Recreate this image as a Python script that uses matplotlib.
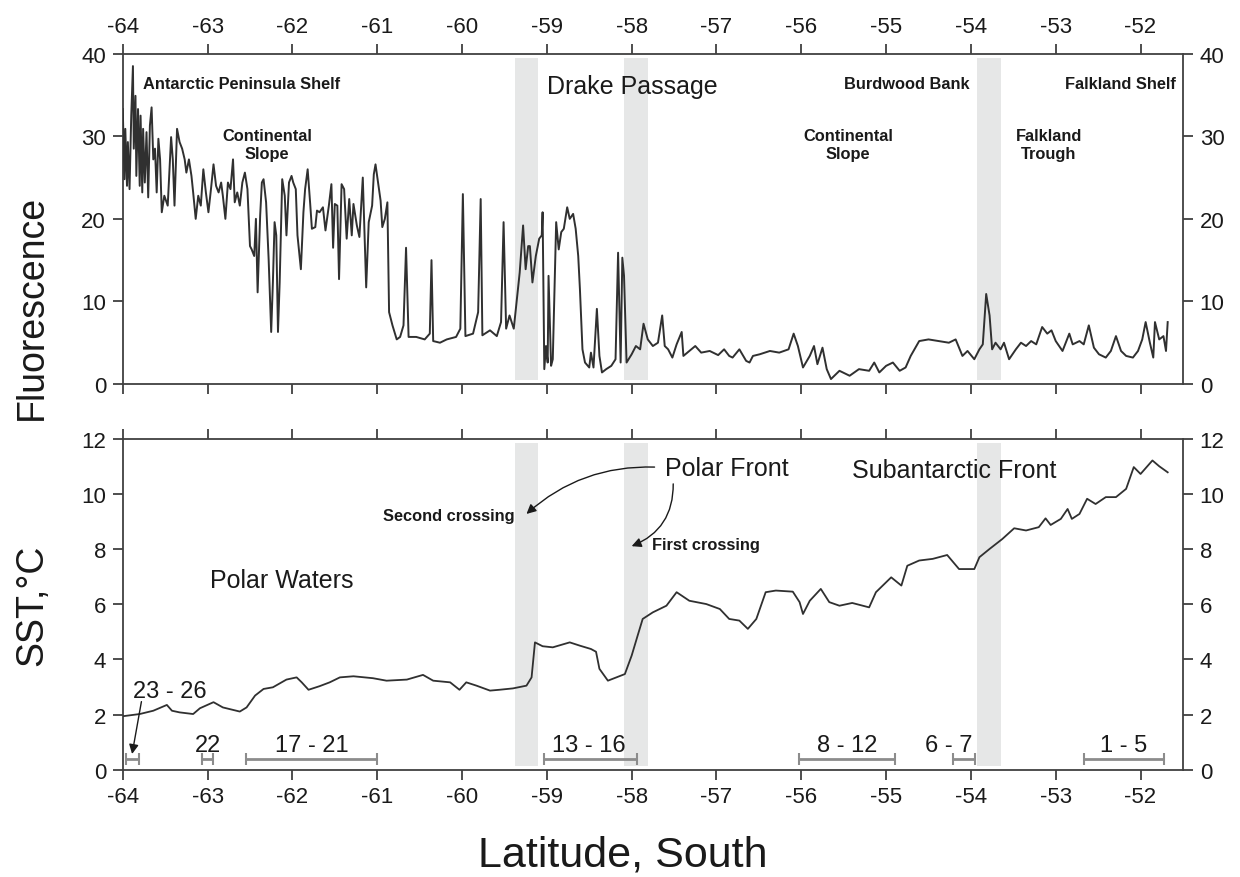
import matplotlib
matplotlib.use("Agg")
import matplotlib.pyplot as plt
import numpy as np

plt.rcParams['font.family'] = ['Liberation Sans', 'DejaVu Sans']
plt.rcParams['axes.unicode_minus'] = False

# Underway fluorescence along the transect (latitude, relative units)
fluor_lat = [
    -64.00, -63.98, -63.97, -63.95, -63.94, -63.92, -63.90, -63.88, -63.87, -63.85,
    -63.84, -63.82, -63.80, -63.79, -63.77, -63.76, -63.74, -63.72, -63.70, -63.68,
    -63.66, -63.64, -63.62, -63.60, -63.58, -63.56, -63.54, -63.51, -63.47, -63.43,
    -63.41, -63.39, -63.36, -63.33, -63.30, -63.27, -63.25, -63.22, -63.19, -63.17,
    -63.14, -63.11, -63.08, -63.05, -63.02, -62.99, -62.96, -62.93, -62.90, -62.87,
    -62.84, -62.82, -62.79, -62.76, -62.73, -62.70, -62.68, -62.65, -62.62, -62.59,
    -62.56, -62.53, -62.50, -62.48, -62.45, -62.43, -62.41, -62.38, -62.36, -62.34,
    -62.31, -62.28, -62.25, -62.23, -62.21, -62.19, -62.17, -62.15, -62.12, -62.09,
    -62.07, -62.04, -62.01, -61.99, -61.96, -61.94, -61.90, -61.87, -61.85, -61.82,
    -61.79, -61.77, -61.73, -61.71, -61.68, -61.64, -61.61, -61.57, -61.54, -61.52,
    -61.50, -61.47, -61.45, -61.42, -61.39, -61.36, -61.33, -61.30, -61.28, -61.24,
    -61.21, -61.17, -61.13, -61.10, -61.06, -61.04, -61.02, -60.99, -60.96, -60.94,
    -60.91, -60.88, -60.86, -60.82, -60.77, -60.73, -60.69, -60.66, -60.63, -60.54,
    -60.44, -60.38, -60.36, -60.34, -60.26, -60.18, -60.07, -60.02, -59.99, -59.96,
    -59.87, -59.81, -59.78, -59.76, -59.67, -59.59, -59.54, -59.51, -59.48, -59.44,
    -59.39, -59.32, -59.28, -59.25, -59.22, -59.20, -59.17, -59.13, -59.09, -59.06,
    -59.05, -59.03, -59.01, -58.99, -58.98, -58.95, -58.93, -58.89, -58.86, -58.83,
    -58.80, -58.76, -58.73, -58.69, -58.66, -58.63, -58.61, -58.58, -58.55, -58.50,
    -58.48, -58.45, -58.41, -58.38, -58.35, -58.30, -58.24, -58.19, -58.16, -58.13,
    -58.11, -58.09, -58.06, -58.00, -57.95, -57.90, -57.86, -57.81, -57.75, -57.69,
    -57.64, -57.61, -57.57, -57.52, -57.47, -57.41, -57.39, -57.32, -57.25, -57.18,
    -57.08, -56.98, -56.91, -56.85, -56.81, -56.73, -56.65, -56.61, -56.57, -56.49,
    -56.37, -56.26, -56.15, -56.09, -56.04, -55.98, -55.90, -55.85, -55.81, -55.75,
    -55.70, -55.65, -55.55, -55.43, -55.32, -55.20, -55.14, -55.08, -55.00, -54.92,
    -54.84, -54.77, -54.71, -54.61, -54.50, -54.38, -54.26, -54.18, -54.10, -54.04,
    -53.96, -53.90, -53.86, -53.82, -53.78, -53.75, -53.71, -53.65, -53.61, -53.55,
    -53.47, -53.41, -53.35, -53.29, -53.23, -53.16, -53.10, -53.05, -53.00, -52.92,
    -52.84, -52.80, -52.72, -52.67, -52.61, -52.55, -52.49, -52.41, -52.35, -52.29,
    -52.23, -52.17, -52.09, -52.03, -51.98, -51.94, -51.89, -51.85, -51.83, -51.78,
    -51.73, -51.70, -51.68,
]
fluor_val = [
    33.3, 24.8, 30.9, 24.0, 29.3, 23.6, 32.5, 38.5, 28.5, 34.9,
    25.2, 33.3, 24.0, 32.5, 23.2, 30.9, 24.4, 30.5, 22.6, 31.3,
    33.5, 27.2, 28.5, 23.2, 29.7, 27.2, 20.8, 22.8, 21.6, 29.9,
    27.2, 21.6, 30.9, 29.3, 28.5, 27.2, 25.6, 27.2, 25.2, 23.2,
    20.0, 22.8, 21.6, 26.0, 23.2, 20.8, 23.6, 26.6, 24.0, 23.2,
    24.4, 22.8, 20.0, 24.4, 23.6, 27.2, 22.0, 23.2, 21.6, 24.4,
    25.6, 23.6, 16.7, 16.3, 15.5, 20.0, 11.1, 20.4, 24.4, 24.8,
    22.0, 15.1, 6.3, 12.3, 19.6, 18.0, 6.3, 12.3, 24.8, 22.8,
    18.0, 24.4, 25.2, 24.4, 23.6, 18.0, 13.9, 20.8, 23.6, 26.0,
    21.8, 18.8, 19.0, 21.0, 20.8, 21.4, 18.6, 21.6, 24.2, 16.5,
    21.8, 21.6, 12.7, 24.2, 23.6, 17.6, 22.4, 18.0, 21.8, 19.2,
    17.8, 25.0, 11.7, 19.6, 21.6, 25.4, 26.6, 24.4, 22.2, 19.0,
    20.0, 22.0, 8.7, 7.1, 5.4, 5.7, 7.1, 16.5, 5.7, 5.7,
    5.4, 6.1, 15.0, 5.2, 5.0, 5.4, 5.7, 6.7, 23.0, 5.8,
    6.1, 8.7, 22.4, 5.9, 6.5, 5.8, 7.5, 19.6, 6.7, 8.3,
    6.7, 13.5, 19.2, 13.9, 16.7, 16.7, 12.3, 15.5, 17.6, 18.0,
    20.8, 1.8, 4.6, 2.6, 13.1, 2.2, 3.0, 19.6, 16.3, 18.4,
    18.8, 21.4, 20.0, 20.6, 18.8, 15.5, 11.5, 4.2, 2.6, 2.0,
    3.8, 2.0, 9.1, 3.4, 1.4, 1.8, 2.2, 3.0, 15.9, 2.6,
    15.3, 13.1, 2.6, 3.6, 4.6, 4.2, 7.3, 5.4, 4.6, 5.0,
    8.3, 4.6, 4.2, 3.2, 4.8, 6.3, 3.4, 4.0, 4.6, 3.8,
    4.0, 3.5, 4.2, 3.4, 3.2, 4.2, 2.8, 2.6, 3.4, 3.6,
    4.0, 3.8, 4.2, 6.1, 4.6, 2.0, 3.4, 4.6, 2.4, 4.4,
    1.8, 0.6, 1.6, 1.0, 1.8, 1.6, 2.6, 1.4, 2.2, 2.6,
    1.6, 2.0, 3.4, 5.2, 5.4, 5.2, 5.0, 5.4, 3.4, 4.0,
    3.0, 4.2, 4.8, 10.9, 8.3, 4.2, 5.0, 4.2, 5.0, 3.0,
    4.2, 5.0, 4.6, 5.2, 4.8, 6.9, 6.1, 6.5, 5.2, 4.0,
    6.1, 4.8, 5.2, 4.8, 7.1, 4.4, 3.6, 3.2, 4.0, 5.8,
    4.0, 3.4, 3.2, 4.0, 5.4, 7.5, 5.0, 3.2, 7.5, 5.4,
    5.8, 4.0, 7.5,
]

# Sea surface temperature along the same track (deg C)
sst_lat = [
    -64.00, -63.80, -63.64, -63.48, -63.42, -63.33, -63.17, -63.09, -62.93, -62.82,
    -62.74, -62.62, -62.54, -62.44, -62.34, -62.23, -62.07, -61.95, -61.89, -61.81,
    -61.68, -61.56, -61.44, -61.28, -61.05, -60.89, -60.65, -60.46, -60.34, -60.14,
    -60.03, -59.95, -59.83, -59.67, -59.56, -59.40, -59.24, -59.18, -59.14, -59.05,
    -58.93, -58.73, -58.61, -58.48, -58.42, -58.38, -58.28, -58.18, -58.08, -58.00,
    -57.93, -57.87, -57.75, -57.59, -57.47, -57.32, -57.12, -56.96, -56.85, -56.73,
    -56.63, -56.53, -56.42, -56.30, -56.10, -56.02, -55.98, -55.90, -55.77, -55.67,
    -55.55, -55.40, -55.20, -55.12, -54.94, -54.82, -54.75, -54.61, -54.45, -54.28,
    -54.14, -53.96, -53.90, -53.78, -53.63, -53.49, -53.35, -53.20, -53.12, -53.06,
    -52.94, -52.86, -52.81, -52.72, -52.63, -52.53, -52.41, -52.29, -52.17, -52.08,
    -52.00, -51.86, -51.78, -51.68,
]
sst_val = [
    1.94, 2.02, 2.14, 2.35, 2.14, 2.08, 2.02, 2.23, 2.45, 2.26,
    2.20, 2.11, 2.26, 2.69, 2.93, 2.99, 3.27, 3.35, 3.17, 2.90,
    3.03, 3.17, 3.35, 3.39, 3.32, 3.23, 3.27, 3.44, 3.23, 3.17,
    2.90, 3.17, 3.05, 2.87, 2.90, 2.95, 3.05, 3.35, 4.62, 4.48,
    4.44, 4.62, 4.50, 4.38, 4.28, 3.66, 3.23, 3.35, 3.47, 4.14,
    4.86, 5.47, 5.71, 5.95, 6.44, 6.13, 6.01, 5.83, 5.47, 5.41,
    5.11, 5.47, 6.44, 6.50, 6.46, 6.08, 5.65, 6.13, 6.56, 6.08,
    5.95, 6.05, 5.89, 6.44, 6.98, 6.68, 7.40, 7.59, 7.65, 7.79,
    7.28, 7.28, 7.71, 8.01, 8.37, 8.76, 8.68, 8.80, 9.12, 8.88,
    9.10, 9.46, 9.10, 9.28, 9.83, 9.64, 9.89, 9.89, 10.19, 10.98,
    10.73, 11.22, 11.01, 10.79,
]

# Frontal zones (shaded latitude bands)
band_start = [-59.38, -58.095, -53.93]
band_end = [-59.10, -57.81, -53.65]

# Station groups occupied along the transect
stn_labels = ['23 - 26', '22', '17 - 21', '13 - 16', '8 - 12', '6 - 7', '1 - 5']
stn_start = [-63.96, -63.06, -62.55, -59.03, -56.03, -54.21, -52.67]
stn_end = [-63.81, -62.94, -61.00, -57.94, -54.90, -53.95, -51.72]
stn_label_x = [-63.45, -63.00, -61.77, -58.50, -55.46, -54.26, -52.20]

line_color = '#303030'
band_color = '#e6e7e7'
axis_color = '#404040'

fig = plt.figure(figsize=(12.4, 8.78), dpi=100)
ax1 = fig.add_axes([0.099, 0.5615, 0.855, 0.3762])
ax2 = fig.add_axes([0.099, 0.1222, 0.855, 0.3767])

for ax in (ax1, ax2):
    for s, e in zip(band_start, band_end):
        ax.axvspan(s, e, ymin=0.012, ymax=0.988, color=band_color, lw=0, zorder=0)
    ax.set_xlim(-64, -51.5)
    ax.set_xticks(np.arange(-64, -51, 1))
    for sp in ax.spines.values():
        sp.set_color(axis_color)
        sp.set_linewidth(1.3)
    ax.tick_params(which='both', direction='out', length=7, width=1.3,
                   color=axis_color, labelsize=16, labelcolor='#1a1a1a',
                   top=True, right=True, labelright=True, pad=5)

# Fluorescence panel
ax1.plot(fluor_lat, fluor_val, color=line_color, lw=1.4, zorder=3)
ax1.set_ylim(0, 40)
ax1.set_yticks([0, 10, 20, 30, 40])
ax1.tick_params(labeltop=True, labelbottom=False)

small = dict(fontsize=11.8, fontweight='bold', color='#1a1a1a')
ax1.text(-63.76, 35.8, 'Antarctic Peninsula Shelf', ha='left', va='baseline', **small)
ax1.text(-62.30, 29.0, 'Continental\nSlope', ha='center', va='center', **small)
ax1.text(-55.45, 29.0, 'Continental\nSlope', ha='center', va='center', **small)
ax1.text(-54.76, 35.8, 'Burdwood Bank', ha='center', va='baseline', **small)
ax1.text(-52.24, 35.8, 'Falkland Shelf', ha='center', va='baseline', **small)
ax1.text(-53.08, 29.0, 'Falkland\nTrough', ha='center', va='center', **small)
ax1.text(-59.0, 35.2, 'Drake Passage', ha='left', va='baseline', fontsize=18, color='#1a1a1a')

# SST panel
ax2.plot(sst_lat, sst_val, color=line_color, lw=1.3, zorder=3)
ax2.set_ylim(0, 12)
ax2.set_yticks([0, 2, 4, 6, 8, 10, 12])
ax2.tick_params(labeltop=False, labelbottom=True)

big = dict(fontsize=18, color='#1a1a1a')
ax2.text(-62.97, 6.62, 'Polar Waters', ha='left', va='baseline', **big)
ax2.text(-57.61, 10.70, 'Polar Front', ha='left', va='baseline', **big)
ax2.text(-54.2, 10.61, 'Subantarctic Front', ha='center', va='baseline', **big)
ax2.text(-60.93, 9.07, 'Second crossing', ha='left', va='baseline', **small)
ax2.text(-57.76, 7.99, 'First crossing', ha='left', va='baseline', **small)

arrow = dict(arrowstyle='-|>', color='#1a1a1a', lw=1.0, mutation_scale=14,
             shrinkA=0, shrinkB=0)
ax2.annotate('', xy=(-59.24, 9.28), xytext=(-57.73, 10.98),
             arrowprops=dict(connectionstyle='arc3,rad=0.2', **arrow))
ax2.annotate('', xy=(-58.0, 8.11), xytext=(-57.51, 10.37),
             arrowprops=dict(connectionstyle='arc3,rad=-0.34', **arrow))

# station groups: horizontal bars with end caps
stn_center = [(s + e) / 2 for s, e in zip(stn_start, stn_end)]
stn_half = [(e - s) / 2 for s, e in zip(stn_start, stn_end)]
ax2.errorbar(stn_center, [0.39] * len(stn_center), xerr=stn_half, fmt='none',
             ecolor='#8c8c8c', elinewidth=2, capsize=4, capthick=1.5, zorder=4)
for lab, lx in zip(stn_labels, stn_label_x):
    ly = 2.63 if lab == '23 - 26' else 0.68
    ax2.text(lx, ly, lab, ha='center', va='baseline', fontsize=17, color='#1a1a1a')
ax2.annotate('', xy=(-63.89, 0.57), xytext=(-63.78, 2.47),
             arrowprops=dict(connectionstyle='arc3,rad=0', **arrow))

fig.text(0.026, 0.6496, 'Fluorescence', rotation=90, ha='center', va='center',
         fontsize=27, color='#1a1a1a')
fig.text(0.026, 0.3105, 'SST,°C', rotation=90, ha='center', va='center',
         fontsize=27, color='#1a1a1a')
fig.text(0.502, 0.026, 'Latitude, South', ha='center', va='center',
         fontsize=31, color='#1a1a1a')

fig.savefig('out.png', dpi=100)
